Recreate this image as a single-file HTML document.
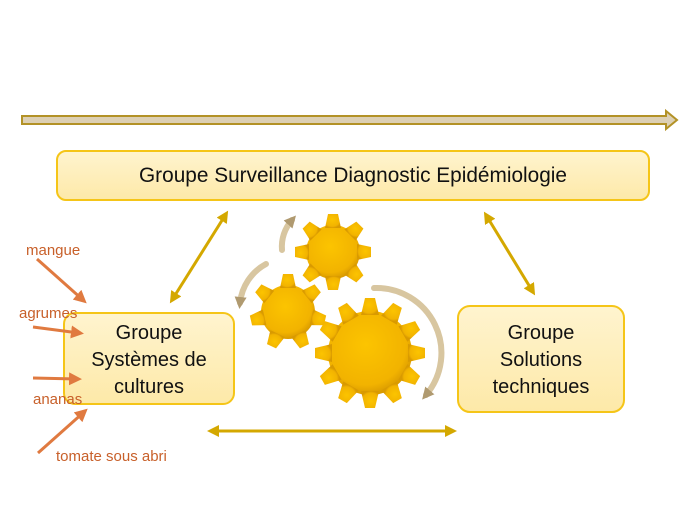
<!DOCTYPE html>
<html><head><meta charset="utf-8"><style>
html,body{margin:0;padding:0;background:#fff;}
svg{display:block;font-family:"Liberation Sans",sans-serif;}
</style></head><body>
<svg width="694" height="521" viewBox="0 0 694 521" xmlns="http://www.w3.org/2000/svg">
<defs>
<radialGradient id="g" cx="45%" cy="40%" r="60%"><stop offset="0" stop-color="#fcc400"/><stop offset="0.8" stop-color="#f2b300"/><stop offset="1" stop-color="#d99a00"/></radialGradient>
<linearGradient id="bx" x1="0" y1="0" x2="0" y2="1"><stop offset="0" stop-color="#fff4cf"/><stop offset="1" stop-color="#fde9a8"/></linearGradient>
<marker id="ag" markerWidth="12" markerHeight="12" refX="8" refY="6" orient="auto-start-reverse" markerUnits="userSpaceOnUse"><path d="M0,0 L12,6 L0,12 Z" fill="#d4a800"/></marker>
<marker id="ao" markerWidth="13" markerHeight="13" refX="8" refY="6.5" orient="auto" markerUnits="userSpaceOnUse"><path d="M0,0 L13,6.5 L0,13 Z" fill="#e07a40"/></marker>
<marker id="ab" markerWidth="12" markerHeight="12" refX="6" refY="6" orient="auto" markerUnits="userSpaceOnUse"><path d="M0,0 L12,6 L0,12 Z" fill="#b09a70"/></marker>
<path id="t1" d="M-8,-24 L-5,-38 L5,-38 L8,-24 Z"/>
<path id="t3" d="M-9,-38 L-5,-55 L5,-55 L9,-38 Z"/>
</defs>
<path d="M22,116 L666,116 L666,111 L677,120 L666,129 L666,124 L22,124 Z" fill="#ddd0b4" stroke="#b39226" stroke-width="2"/>
<rect x="57" y="151" width="592" height="49" rx="9" fill="url(#bx)" stroke="#f5c518" stroke-width="2"/>
<text x="353" y="182" font-size="21" text-anchor="middle" fill="#111" textLength="428" lengthAdjust="spacingAndGlyphs">Groupe Surveillance Diagnostic Epidémiologie</text>
<rect x="64" y="313" width="170" height="91" rx="11" fill="url(#bx)" stroke="#f5c518" stroke-width="2"/>
<text font-size="20" text-anchor="middle" fill="#111"><tspan x="149" y="339">Groupe</tspan><tspan x="149" y="366">Systèmes de</tspan><tspan x="149" y="393">cultures</tspan></text>
<rect x="458" y="306" width="166" height="106" rx="12" fill="url(#bx)" stroke="#f5c518" stroke-width="2"/>
<text font-size="20" text-anchor="middle" fill="#111"><tspan x="541" y="339">Groupe</tspan><tspan x="541" y="366">Solutions</tspan><tspan x="541" y="393">techniques</tspan></text>
<g stroke="#d4a800" stroke-width="3" fill="none">
<line x1="172" y1="300" x2="226" y2="214" marker-start="url(#ag)" marker-end="url(#ag)"/>
<line x1="486" y1="215" x2="533" y2="292" marker-start="url(#ag)" marker-end="url(#ag)"/>
<line x1="211" y1="431" x2="453" y2="431" marker-start="url(#ag)" marker-end="url(#ag)"/>
</g>
<g stroke="#e07a40" stroke-width="3" fill="none">
<line x1="37" y1="259" x2="83" y2="300" marker-end="url(#ao)"/>
<line x1="33" y1="327" x2="79" y2="333" marker-end="url(#ao)"/>
<line x1="33" y1="378" x2="77" y2="379" marker-end="url(#ao)"/>
<line x1="38" y1="453" x2="84" y2="412" marker-end="url(#ao)"/>
</g>
<g font-size="15" fill="#c8602a">
<text x="26" y="255">mangue</text>
<text x="19" y="318">agrumes</text>
<text x="33" y="404">ananas</text>
<text x="56" y="461">tomate sous abri</text>
</g>
<g stroke="#d8c6a0" stroke-width="6" fill="none" stroke-linecap="round">
<path d="M282,250 A40,40 0 0 1 292,220" marker-end="url(#ab)"/>
<path d="M266,264 A50,50 0 0 0 240,303" marker-end="url(#ab)"/>
<path d="M374,288 A65,65 0 0 1 426,395" marker-end="url(#ab)"/>
</g>
<g fill="url(#g)">
<g transform="translate(333,252)">
<circle r="27"/>
<use href="#t1"/><use href="#t1" transform="rotate(45)"/><use href="#t1" transform="rotate(90)"/><use href="#t1" transform="rotate(135)"/><use href="#t1" transform="rotate(180)"/><use href="#t1" transform="rotate(225)"/><use href="#t1" transform="rotate(270)"/><use href="#t1" transform="rotate(315)"/>
</g>
<g transform="translate(288,312)">
<circle r="27"/>
<use href="#t1"/><use href="#t1" transform="rotate(51.4)"/><use href="#t1" transform="rotate(102.8)"/><use href="#t1" transform="rotate(154.3)"/><use href="#t1" transform="rotate(205.7)"/><use href="#t1" transform="rotate(257.1)"/><use href="#t1" transform="rotate(308.6)"/>
</g>
<g transform="translate(370,353)">
<circle r="42"/>
<use href="#t3"/><use href="#t3" transform="rotate(30)"/><use href="#t3" transform="rotate(60)"/><use href="#t3" transform="rotate(90)"/><use href="#t3" transform="rotate(120)"/><use href="#t3" transform="rotate(150)"/><use href="#t3" transform="rotate(180)"/><use href="#t3" transform="rotate(210)"/><use href="#t3" transform="rotate(240)"/><use href="#t3" transform="rotate(270)"/><use href="#t3" transform="rotate(300)"/><use href="#t3" transform="rotate(330)"/>
</g>
</g>
</svg>
</body></html>
